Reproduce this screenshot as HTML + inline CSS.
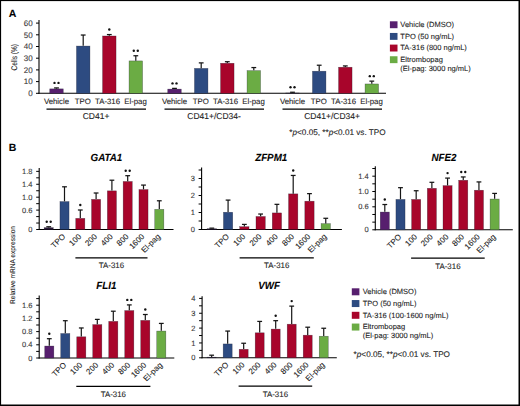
<!DOCTYPE html>
<html><head><meta charset="utf-8"><style>
html,body{margin:0;padding:0;background:#fff;}
body{width:520px;height:406px;overflow:hidden;}
svg{display:block;font-family:"Liberation Sans", sans-serif;}
text{stroke:#2a2a2a;stroke-width:0.1px;text-rendering:geometricPrecision;}
</style></head><body>
<svg width="520" height="406" viewBox="0 0 520 406">
<rect x="0" y="0" width="520" height="406" fill="#fff"/>
<text x="8.8" y="17.3" font-size="10.5" text-anchor="start" font-weight="bold" font-style="normal" fill="#000" >A</text>
<line x1="39" y1="20" x2="39" y2="93.8" stroke="#000" stroke-width="1.1"/>
<line x1="36" y1="93.3" x2="39" y2="93.3" stroke="#000" stroke-width="1"/>
<text x="32.6" y="96.1" font-size="8.0" text-anchor="end" font-weight="normal" font-style="normal" fill="#3a3a3a" >0</text>
<line x1="36" y1="81.6" x2="39" y2="81.6" stroke="#000" stroke-width="1"/>
<text x="32.6" y="84.39999999999999" font-size="8.0" text-anchor="end" font-weight="normal" font-style="normal" fill="#3a3a3a" >10</text>
<line x1="36" y1="69.9" x2="39" y2="69.9" stroke="#000" stroke-width="1"/>
<text x="32.6" y="72.7" font-size="8.0" text-anchor="end" font-weight="normal" font-style="normal" fill="#3a3a3a" >20</text>
<line x1="36" y1="58.2" x2="39" y2="58.2" stroke="#000" stroke-width="1"/>
<text x="32.6" y="61.0" font-size="8.0" text-anchor="end" font-weight="normal" font-style="normal" fill="#3a3a3a" >30</text>
<line x1="36" y1="46.5" x2="39" y2="46.5" stroke="#000" stroke-width="1"/>
<text x="32.6" y="49.3" font-size="8.0" text-anchor="end" font-weight="normal" font-style="normal" fill="#3a3a3a" >40</text>
<line x1="36" y1="34.8" x2="39" y2="34.8" stroke="#000" stroke-width="1"/>
<text x="32.6" y="37.599999999999994" font-size="8.0" text-anchor="end" font-weight="normal" font-style="normal" fill="#3a3a3a" >50</text>
<line x1="36" y1="23.10000000000001" x2="39" y2="23.10000000000001" stroke="#000" stroke-width="1"/>
<text x="32.6" y="25.90000000000001" font-size="8.0" text-anchor="end" font-weight="normal" font-style="normal" fill="#3a3a3a" >60</text>
<text transform="translate(16.6,57.3) rotate(-90)" font-size="8.2" text-anchor="middle" fill="#222" textLength="26.5" lengthAdjust="spacingAndGlyphs">Cells (%)</text>
<line x1="38.5" y1="93.3" x2="386" y2="93.3" stroke="#000" stroke-width="1.1"/>
<rect x="49.75" y="88.87" width="13.50" height="4.43" fill="#571f6e" stroke="#1a1a2a" stroke-opacity="0.55" stroke-width="0.5"/>
<line x1="56.5" y1="88.62" x2="56.5" y2="87.91799999999999" stroke="#151515" stroke-width="1.2"/>
<line x1="54.1" y1="87.91799999999999" x2="58.9" y2="87.91799999999999" stroke="#151515" stroke-width="1.25"/>
<circle cx="54.50" cy="82.92" r="1.2" fill="#111"/>
<circle cx="58.50" cy="82.92" r="1.2" fill="#111"/>
<text x="56.5" y="104" font-size="7.8" text-anchor="middle" font-weight="normal" font-style="normal" fill="#222" >Vehicle</text>
<rect x="76.45" y="46.05" width="13.50" height="47.25" fill="#2d4b81" stroke="#1a1a2a" stroke-opacity="0.55" stroke-width="0.5"/>
<line x1="83.2" y1="45.798" x2="83.2" y2="35.034000000000006" stroke="#151515" stroke-width="1.2"/>
<line x1="80.8" y1="35.034000000000006" x2="85.60000000000001" y2="35.034000000000006" stroke="#151515" stroke-width="1.25"/>
<text x="82.7" y="104" font-size="7.8" text-anchor="middle" font-weight="normal" font-style="normal" fill="#222" >TPO</text>
<rect x="102.55" y="35.99" width="13.50" height="57.31" fill="#a8052b" stroke="#1a1a2a" stroke-opacity="0.55" stroke-width="0.5"/>
<line x1="109.3" y1="35.736" x2="109.3" y2="34.565999999999995" stroke="#151515" stroke-width="1.2"/>
<line x1="106.89999999999999" y1="34.565999999999995" x2="111.7" y2="34.565999999999995" stroke="#151515" stroke-width="1.25"/>
<circle cx="109.30" cy="29.57" r="1.2" fill="#111"/>
<text x="107.5" y="104" font-size="7.8" text-anchor="middle" font-weight="normal" font-style="normal" fill="#222" >TA-316</text>
<rect x="129.05" y="60.91" width="13.50" height="32.39" fill="#6bac44" stroke="#1a1a2a" stroke-opacity="0.55" stroke-width="0.5"/>
<line x1="135.8" y1="60.657000000000004" x2="135.8" y2="55.742999999999995" stroke="#151515" stroke-width="1.2"/>
<line x1="133.4" y1="55.742999999999995" x2="138.20000000000002" y2="55.742999999999995" stroke="#151515" stroke-width="1.25"/>
<circle cx="133.80" cy="50.74" r="1.2" fill="#111"/>
<circle cx="137.80" cy="50.74" r="1.2" fill="#111"/>
<text x="135.5" y="104" font-size="7.8" text-anchor="middle" font-weight="normal" font-style="normal" fill="#222" >El-pag</text>
<line x1="46.5" y1="109.2" x2="146.0" y2="109.2" stroke="#000" stroke-width="1.2"/>
<text x="96.1" y="119.2" font-size="8.5" text-anchor="middle" font-weight="normal" font-style="normal" fill="#222" >CD41+</text>
<rect x="167.75" y="89.10" width="13.50" height="4.20" fill="#571f6e" stroke="#1a1a2a" stroke-opacity="0.55" stroke-width="0.5"/>
<line x1="174.5" y1="88.854" x2="174.5" y2="88.386" stroke="#151515" stroke-width="1.2"/>
<line x1="172.1" y1="88.386" x2="176.9" y2="88.386" stroke="#151515" stroke-width="1.25"/>
<circle cx="172.50" cy="83.39" r="1.2" fill="#111"/>
<circle cx="176.50" cy="83.39" r="1.2" fill="#111"/>
<text x="174.5" y="104" font-size="7.8" text-anchor="middle" font-weight="normal" font-style="normal" fill="#222" >Vehicle</text>
<rect x="194.45" y="68.39" width="13.50" height="24.91" fill="#2d4b81" stroke="#1a1a2a" stroke-opacity="0.55" stroke-width="0.5"/>
<line x1="201.2" y1="68.145" x2="201.2" y2="62.879999999999995" stroke="#151515" stroke-width="1.2"/>
<line x1="198.79999999999998" y1="62.879999999999995" x2="203.6" y2="62.879999999999995" stroke="#151515" stroke-width="1.25"/>
<text x="200.7" y="104" font-size="7.8" text-anchor="middle" font-weight="normal" font-style="normal" fill="#222" >TPO</text>
<rect x="220.55" y="63.25" width="13.50" height="30.05" fill="#a8052b" stroke="#1a1a2a" stroke-opacity="0.55" stroke-width="0.5"/>
<line x1="227.3" y1="62.997" x2="227.3" y2="61.71" stroke="#151515" stroke-width="1.2"/>
<line x1="224.9" y1="61.71" x2="229.70000000000002" y2="61.71" stroke="#151515" stroke-width="1.25"/>
<text x="225.5" y="104" font-size="7.8" text-anchor="middle" font-weight="normal" font-style="normal" fill="#222" >TA-316</text>
<rect x="247.05" y="70.62" width="13.50" height="22.68" fill="#6bac44" stroke="#1a1a2a" stroke-opacity="0.55" stroke-width="0.5"/>
<line x1="253.8" y1="70.368" x2="253.8" y2="67.56" stroke="#151515" stroke-width="1.2"/>
<line x1="251.4" y1="67.56" x2="256.2" y2="67.56" stroke="#151515" stroke-width="1.25"/>
<text x="253.5" y="104" font-size="7.8" text-anchor="middle" font-weight="normal" font-style="normal" fill="#222" >El-pag</text>
<line x1="164.5" y1="109.2" x2="264.0" y2="109.2" stroke="#000" stroke-width="1.2"/>
<text x="214.1" y="119.2" font-size="8.5" text-anchor="middle" font-weight="normal" font-style="normal" fill="#222" >CD41+/CD34-</text>
<rect x="285.75" y="92.97" width="13.50" height="0.33" fill="#2a1838" stroke="#1a1a2a" stroke-opacity="0.55" stroke-width="0.5"/>
<line x1="292.5" y1="92.715" x2="292.5" y2="92.247" stroke="#151515" stroke-width="1.2"/>
<line x1="290.1" y1="92.247" x2="294.9" y2="92.247" stroke="#151515" stroke-width="1.25"/>
<circle cx="290.50" cy="87.25" r="1.2" fill="#111"/>
<circle cx="294.50" cy="87.25" r="1.2" fill="#111"/>
<text x="292.5" y="104" font-size="7.8" text-anchor="middle" font-weight="normal" font-style="normal" fill="#222" >Vehicle</text>
<rect x="312.45" y="71.20" width="13.50" height="22.10" fill="#2d4b81" stroke="#1a1a2a" stroke-opacity="0.55" stroke-width="0.5"/>
<line x1="319.2" y1="70.953" x2="319.2" y2="65.22" stroke="#151515" stroke-width="1.2"/>
<line x1="316.8" y1="65.22" x2="321.59999999999997" y2="65.22" stroke="#151515" stroke-width="1.25"/>
<text x="318.7" y="104" font-size="7.8" text-anchor="middle" font-weight="normal" font-style="normal" fill="#222" >TPO</text>
<rect x="338.55" y="67.22" width="13.50" height="26.08" fill="#a8052b" stroke="#1a1a2a" stroke-opacity="0.55" stroke-width="0.5"/>
<line x1="345.3" y1="66.975" x2="345.3" y2="65.922" stroke="#151515" stroke-width="1.2"/>
<line x1="342.90000000000003" y1="65.922" x2="347.7" y2="65.922" stroke="#151515" stroke-width="1.25"/>
<text x="343.5" y="104" font-size="7.8" text-anchor="middle" font-weight="normal" font-style="normal" fill="#222" >TA-316</text>
<rect x="365.05" y="83.96" width="13.50" height="9.34" fill="#6bac44" stroke="#1a1a2a" stroke-opacity="0.55" stroke-width="0.5"/>
<line x1="371.8" y1="83.706" x2="371.8" y2="81.132" stroke="#151515" stroke-width="1.2"/>
<line x1="369.40000000000003" y1="81.132" x2="374.2" y2="81.132" stroke="#151515" stroke-width="1.25"/>
<circle cx="369.80" cy="76.13" r="1.2" fill="#111"/>
<circle cx="373.80" cy="76.13" r="1.2" fill="#111"/>
<text x="371.5" y="104" font-size="7.8" text-anchor="middle" font-weight="normal" font-style="normal" fill="#222" >El-pag</text>
<line x1="282.5" y1="109.2" x2="382.0" y2="109.2" stroke="#000" stroke-width="1.2"/>
<text x="332.1" y="119.2" font-size="8.5" text-anchor="middle" font-weight="normal" font-style="normal" fill="#222" >CD41+/CD34+</text>
<text x="337.5" y="134.8" font-size="8.2" text-anchor="middle" font-weight="normal" font-style="normal" fill="#222" >*<tspan font-style="italic">p</tspan>&lt;0.05, **<tspan font-style="italic">p</tspan>&lt;0.01 vs. TPO</text>
<rect x="389.9" y="21.3" width="7.6" height="6.9" fill="#571f6e"/>
<text x="400.3" y="27.1" font-size="7.5" text-anchor="start" font-weight="normal" font-style="normal" fill="#222" >Vehicle (DMSO)</text>
<rect x="389.9" y="32.95" width="7.6" height="6.9" fill="#2d4b81"/>
<text x="400.3" y="38.75" font-size="7.5" text-anchor="start" font-weight="normal" font-style="normal" fill="#222" >TPO (50 ng/mL)</text>
<rect x="389.9" y="44.6" width="7.6" height="6.9" fill="#a8052b"/>
<text x="400.3" y="50.4" font-size="7.5" text-anchor="start" font-weight="normal" font-style="normal" fill="#222" >TA-316 (800 ng/mL)</text>
<rect x="389.9" y="56.25" width="7.6" height="6.9" fill="#6bac44"/>
<text x="400.3" y="62.05" font-size="7.5" text-anchor="start" font-weight="normal" font-style="normal" fill="#222" >Eltrombopag</text>
<text x="400.3" y="70.85" font-size="7.5" text-anchor="start" font-weight="normal" font-style="normal" fill="#222" >(El-pag: 3000 ng/mL)</text>
<text x="8.8" y="150.5" font-size="10.5" text-anchor="start" font-weight="bold" font-style="normal" fill="#000" >B</text>
<text transform="translate(15.4,265) rotate(-90)" font-size="7.0" text-anchor="middle" fill="#222" textLength="78" lengthAdjust="spacingAndGlyphs">Relative mRNA expression</text>
<text transform="translate(106.40,160.50) scale(0.95,1)" font-size="10.3" text-anchor="middle" font-weight="bold" font-style="italic" fill="#000" >GATA1</text>
<line x1="39.2" y1="168" x2="39.2" y2="230.0" stroke="#000" stroke-width="1.1"/>
<line x1="38.7" y1="229.5" x2="173.5" y2="229.5" stroke="#000" stroke-width="1.1"/>
<line x1="36.2" y1="229.5" x2="39.2" y2="229.5" stroke="#000" stroke-width="1"/>
<line x1="36.2" y1="223.04" x2="39.2" y2="223.04" stroke="#000" stroke-width="1"/>
<line x1="36.2" y1="216.58" x2="39.2" y2="216.58" stroke="#000" stroke-width="1"/>
<line x1="36.2" y1="210.12" x2="39.2" y2="210.12" stroke="#000" stroke-width="1"/>
<line x1="36.2" y1="203.66" x2="39.2" y2="203.66" stroke="#000" stroke-width="1"/>
<line x1="36.2" y1="197.2" x2="39.2" y2="197.2" stroke="#000" stroke-width="1"/>
<line x1="36.2" y1="190.74" x2="39.2" y2="190.74" stroke="#000" stroke-width="1"/>
<line x1="36.2" y1="184.28" x2="39.2" y2="184.28" stroke="#000" stroke-width="1"/>
<line x1="36.2" y1="177.82" x2="39.2" y2="177.82" stroke="#000" stroke-width="1"/>
<line x1="36.2" y1="171.36" x2="39.2" y2="171.36" stroke="#000" stroke-width="1"/>
<text x="32.5" y="173.96" font-size="7.5" text-anchor="end" font-weight="normal" font-style="normal" fill="#3a3a3a" >1.8</text>
<text x="32.5" y="186.88" font-size="7.5" text-anchor="end" font-weight="normal" font-style="normal" fill="#3a3a3a" >1.4</text>
<text x="32.5" y="199.79999999999998" font-size="7.5" text-anchor="end" font-weight="normal" font-style="normal" fill="#3a3a3a" >1.0</text>
<text x="32.5" y="212.72" font-size="7.5" text-anchor="end" font-weight="normal" font-style="normal" fill="#3a3a3a" >0.6</text>
<text x="32.5" y="232.1" font-size="7.5" text-anchor="end" font-weight="normal" font-style="normal" fill="#3a3a3a" >0</text>
<rect x="44.15" y="227.65" width="9.10" height="1.85" fill="#2a1838" stroke="#1a1a2a" stroke-opacity="0.55" stroke-width="0.5"/>
<line x1="48.699999999999996" y1="227.4005" x2="48.699999999999996" y2="226.7545" stroke="#151515" stroke-width="1.2"/>
<line x1="46.3" y1="226.7545" x2="51.099999999999994" y2="226.7545" stroke="#151515" stroke-width="1.25"/>
<circle cx="46.70" cy="221.75" r="1.2" fill="#111"/>
<circle cx="50.70" cy="221.75" r="1.2" fill="#111"/>
<rect x="59.95" y="201.55" width="9.10" height="27.95" fill="#2d4b81" stroke="#1a1a2a" stroke-opacity="0.55" stroke-width="0.5"/>
<line x1="64.5" y1="201.3021" x2="64.5" y2="186.7994" stroke="#151515" stroke-width="1.2"/>
<line x1="62.1" y1="186.7994" x2="66.9" y2="186.7994" stroke="#151515" stroke-width="1.25"/>
<text transform="translate(66.00,237.00) rotate(-45)" font-size="8.0" text-anchor="end" fill="#222">TPO</text>
<rect x="75.75" y="218.35" width="9.10" height="11.15" fill="#a8052b" stroke="#1a1a2a" stroke-opacity="0.55" stroke-width="0.5"/>
<line x1="80.3" y1="218.0981" x2="80.3" y2="209.9908" stroke="#151515" stroke-width="1.2"/>
<line x1="77.89999999999999" y1="209.9908" x2="82.7" y2="209.9908" stroke="#151515" stroke-width="1.25"/>
<circle cx="80.30" cy="204.99" r="1.2" fill="#111"/>
<text transform="translate(81.80,237.00) rotate(-45)" font-size="8.0" text-anchor="end" fill="#222">100</text>
<rect x="91.55" y="199.36" width="9.10" height="30.14" fill="#a8052b" stroke="#1a1a2a" stroke-opacity="0.55" stroke-width="0.5"/>
<line x1="96.10000000000001" y1="199.1057" x2="96.10000000000001" y2="193.001" stroke="#151515" stroke-width="1.2"/>
<line x1="93.7" y1="193.001" x2="98.50000000000001" y2="193.001" stroke="#151515" stroke-width="1.25"/>
<text transform="translate(97.60,237.00) rotate(-45)" font-size="8.0" text-anchor="end" fill="#222">200</text>
<rect x="107.35" y="190.86" width="9.10" height="38.64" fill="#a8052b" stroke="#1a1a2a" stroke-opacity="0.55" stroke-width="0.5"/>
<line x1="111.89999999999999" y1="190.6108" x2="111.89999999999999" y2="180.2102" stroke="#151515" stroke-width="1.2"/>
<line x1="109.49999999999999" y1="180.2102" x2="114.3" y2="180.2102" stroke="#151515" stroke-width="1.25"/>
<text transform="translate(113.40,237.00) rotate(-45)" font-size="8.0" text-anchor="end" fill="#222">400</text>
<rect x="123.15" y="181.46" width="9.10" height="48.04" fill="#a8052b" stroke="#1a1a2a" stroke-opacity="0.55" stroke-width="0.5"/>
<line x1="127.7" y1="181.2115" x2="127.7" y2="175.6882" stroke="#151515" stroke-width="1.2"/>
<line x1="125.3" y1="175.6882" x2="130.1" y2="175.6882" stroke="#151515" stroke-width="1.25"/>
<circle cx="125.70" cy="170.69" r="1.2" fill="#111"/>
<circle cx="129.70" cy="170.69" r="1.2" fill="#111"/>
<text transform="translate(129.20,237.00) rotate(-45)" font-size="8.0" text-anchor="end" fill="#222">800</text>
<rect x="138.95" y="189.54" width="9.10" height="39.96" fill="#a8052b" stroke="#1a1a2a" stroke-opacity="0.55" stroke-width="0.5"/>
<line x1="143.50000000000003" y1="189.2865" x2="143.50000000000003" y2="185.0875" stroke="#151515" stroke-width="1.2"/>
<line x1="141.10000000000002" y1="185.0875" x2="145.90000000000003" y2="185.0875" stroke="#151515" stroke-width="1.25"/>
<text transform="translate(145.00,237.00) rotate(-45)" font-size="8.0" text-anchor="end" fill="#222">1600</text>
<rect x="154.75" y="209.34" width="9.10" height="20.16" fill="#6bac44" stroke="#1a1a2a" stroke-opacity="0.55" stroke-width="0.5"/>
<line x1="159.3" y1="209.0864" x2="159.3" y2="200.7853" stroke="#151515" stroke-width="1.2"/>
<line x1="156.9" y1="200.7853" x2="161.70000000000002" y2="200.7853" stroke="#151515" stroke-width="1.25"/>
<text transform="translate(160.80,237.00) rotate(-45)" font-size="8.0" text-anchor="end" fill="#222">El-pag</text>
<line x1="75.4" y1="257.8" x2="147.5" y2="257.8" stroke="#000" stroke-width="1.2"/>
<text x="111.45" y="268.4" font-size="7.9" text-anchor="middle" font-weight="normal" font-style="normal" fill="#222" >TA-316</text>
<text transform="translate(271.20,160.50) scale(0.95,1)" font-size="10.3" text-anchor="middle" font-weight="bold" font-style="italic" fill="#000" >ZFPM1</text>
<line x1="201.6" y1="167.6" x2="201.6" y2="230.0" stroke="#000" stroke-width="1.1"/>
<line x1="201.1" y1="229.5" x2="341.9" y2="229.5" stroke="#000" stroke-width="1.1"/>
<line x1="198.6" y1="229.5" x2="201.6" y2="229.5" stroke="#000" stroke-width="1"/>
<line x1="198.6" y1="221.0" x2="201.6" y2="221.0" stroke="#000" stroke-width="1"/>
<line x1="198.6" y1="212.5" x2="201.6" y2="212.5" stroke="#000" stroke-width="1"/>
<line x1="198.6" y1="204.0" x2="201.6" y2="204.0" stroke="#000" stroke-width="1"/>
<line x1="198.6" y1="195.5" x2="201.6" y2="195.5" stroke="#000" stroke-width="1"/>
<line x1="198.6" y1="187.0" x2="201.6" y2="187.0" stroke="#000" stroke-width="1"/>
<line x1="198.6" y1="178.5" x2="201.6" y2="178.5" stroke="#000" stroke-width="1"/>
<line x1="198.6" y1="170.0" x2="201.6" y2="170.0" stroke="#000" stroke-width="1"/>
<text x="194.9" y="181.1" font-size="7.5" text-anchor="end" font-weight="normal" font-style="normal" fill="#3a3a3a" >3</text>
<text x="194.9" y="198.1" font-size="7.5" text-anchor="end" font-weight="normal" font-style="normal" fill="#3a3a3a" >2</text>
<text x="194.9" y="215.1" font-size="7.5" text-anchor="end" font-weight="normal" font-style="normal" fill="#3a3a3a" >1</text>
<text x="194.9" y="232.1" font-size="7.5" text-anchor="end" font-weight="normal" font-style="normal" fill="#3a3a3a" >0</text>
<rect x="207.15" y="228.73" width="9.30" height="0.77" fill="#2a1838" stroke="#1a1a2a" stroke-opacity="0.55" stroke-width="0.5"/>
<line x1="211.8" y1="228.48" x2="211.8" y2="228.14" stroke="#151515" stroke-width="1.2"/>
<line x1="209.4" y1="228.14" x2="214.20000000000002" y2="228.14" stroke="#151515" stroke-width="1.25"/>
<rect x="223.43" y="212.24" width="9.30" height="17.26" fill="#2d4b81" stroke="#1a1a2a" stroke-opacity="0.55" stroke-width="0.5"/>
<line x1="228.08" y1="211.99" x2="228.08" y2="200.09" stroke="#151515" stroke-width="1.2"/>
<line x1="225.68" y1="200.09" x2="230.48000000000002" y2="200.09" stroke="#151515" stroke-width="1.25"/>
<text transform="translate(229.58,237.00) rotate(-45)" font-size="8.0" text-anchor="end" fill="#222">TPO</text>
<rect x="239.71" y="226.69" width="9.30" height="2.81" fill="#a8052b" stroke="#1a1a2a" stroke-opacity="0.55" stroke-width="0.5"/>
<line x1="244.36" y1="226.44" x2="244.36" y2="224.4" stroke="#151515" stroke-width="1.2"/>
<line x1="241.96" y1="224.4" x2="246.76000000000002" y2="224.4" stroke="#151515" stroke-width="1.25"/>
<text transform="translate(245.86,237.00) rotate(-45)" font-size="8.0" text-anchor="end" fill="#222">100</text>
<rect x="255.99" y="216.49" width="9.30" height="13.01" fill="#a8052b" stroke="#1a1a2a" stroke-opacity="0.55" stroke-width="0.5"/>
<line x1="260.64" y1="216.24" x2="260.64" y2="214.03" stroke="#151515" stroke-width="1.2"/>
<line x1="258.24" y1="214.03" x2="263.03999999999996" y2="214.03" stroke="#151515" stroke-width="1.25"/>
<text transform="translate(262.14,237.00) rotate(-45)" font-size="8.0" text-anchor="end" fill="#222">200</text>
<rect x="272.27" y="212.92" width="9.30" height="16.58" fill="#a8052b" stroke="#1a1a2a" stroke-opacity="0.55" stroke-width="0.5"/>
<line x1="276.91999999999996" y1="212.67000000000002" x2="276.91999999999996" y2="204.34" stroke="#151515" stroke-width="1.2"/>
<line x1="274.52" y1="204.34" x2="279.31999999999994" y2="204.34" stroke="#151515" stroke-width="1.25"/>
<text transform="translate(278.42,237.00) rotate(-45)" font-size="8.0" text-anchor="end" fill="#222">400</text>
<rect x="288.55" y="193.88" width="9.30" height="35.62" fill="#a8052b" stroke="#1a1a2a" stroke-opacity="0.55" stroke-width="0.5"/>
<line x1="293.2" y1="193.63" x2="293.2" y2="175.44" stroke="#151515" stroke-width="1.2"/>
<line x1="290.8" y1="175.44" x2="295.59999999999997" y2="175.44" stroke="#151515" stroke-width="1.25"/>
<circle cx="293.20" cy="170.44" r="1.2" fill="#111"/>
<text transform="translate(294.70,237.00) rotate(-45)" font-size="8.0" text-anchor="end" fill="#222">800</text>
<rect x="304.83" y="201.19" width="9.30" height="28.31" fill="#a8052b" stroke="#1a1a2a" stroke-opacity="0.55" stroke-width="0.5"/>
<line x1="309.48" y1="200.94" x2="309.48" y2="193.63" stroke="#151515" stroke-width="1.2"/>
<line x1="307.08000000000004" y1="193.63" x2="311.88" y2="193.63" stroke="#151515" stroke-width="1.25"/>
<text transform="translate(310.98,237.00) rotate(-45)" font-size="8.0" text-anchor="end" fill="#222">1600</text>
<rect x="321.11" y="223.63" width="9.30" height="5.87" fill="#6bac44" stroke="#1a1a2a" stroke-opacity="0.55" stroke-width="0.5"/>
<line x1="325.76" y1="223.38" x2="325.76" y2="218.28" stroke="#151515" stroke-width="1.2"/>
<line x1="323.36" y1="218.28" x2="328.15999999999997" y2="218.28" stroke="#151515" stroke-width="1.25"/>
<text transform="translate(327.26,237.00) rotate(-45)" font-size="8.0" text-anchor="end" fill="#222">El-pag</text>
<line x1="239.6" y1="257.8" x2="313.8" y2="257.8" stroke="#000" stroke-width="1.2"/>
<text x="276.7" y="268.4" font-size="7.9" text-anchor="middle" font-weight="normal" font-style="normal" fill="#222" >TA-316</text>
<text transform="translate(444.00,160.50) scale(0.95,1)" font-size="10.3" text-anchor="middle" font-weight="bold" font-style="italic" fill="#000" >NFE2</text>
<line x1="375.3" y1="166.3" x2="375.3" y2="230.3" stroke="#000" stroke-width="1.1"/>
<line x1="374.8" y1="229.8" x2="512.8" y2="229.8" stroke="#000" stroke-width="1.1"/>
<line x1="372.3" y1="229.8" x2="375.3" y2="229.8" stroke="#000" stroke-width="1"/>
<line x1="372.3" y1="222.14000000000001" x2="375.3" y2="222.14000000000001" stroke="#000" stroke-width="1"/>
<line x1="372.3" y1="214.48000000000002" x2="375.3" y2="214.48000000000002" stroke="#000" stroke-width="1"/>
<line x1="372.3" y1="206.82000000000002" x2="375.3" y2="206.82000000000002" stroke="#000" stroke-width="1"/>
<line x1="372.3" y1="199.16000000000003" x2="375.3" y2="199.16000000000003" stroke="#000" stroke-width="1"/>
<line x1="372.3" y1="191.5" x2="375.3" y2="191.5" stroke="#000" stroke-width="1"/>
<line x1="372.3" y1="183.84000000000003" x2="375.3" y2="183.84000000000003" stroke="#000" stroke-width="1"/>
<line x1="372.3" y1="176.18" x2="375.3" y2="176.18" stroke="#000" stroke-width="1"/>
<line x1="372.3" y1="168.52" x2="375.3" y2="168.52" stroke="#000" stroke-width="1"/>
<text x="368.6" y="178.78" font-size="7.5" text-anchor="end" font-weight="normal" font-style="normal" fill="#3a3a3a" >1.4</text>
<text x="368.6" y="194.1" font-size="7.5" text-anchor="end" font-weight="normal" font-style="normal" fill="#3a3a3a" >1.0</text>
<text x="368.6" y="209.42000000000002" font-size="7.5" text-anchor="end" font-weight="normal" font-style="normal" fill="#3a3a3a" >0.6</text>
<text x="368.6" y="232.4" font-size="7.5" text-anchor="end" font-weight="normal" font-style="normal" fill="#3a3a3a" >0</text>
<rect x="380.25" y="212.05" width="9.10" height="17.75" fill="#571f6e" stroke="#1a1a2a" stroke-opacity="0.55" stroke-width="0.5"/>
<line x1="384.8" y1="211.799" x2="384.8" y2="204.52200000000002" stroke="#151515" stroke-width="1.2"/>
<line x1="382.40000000000003" y1="204.52200000000002" x2="387.2" y2="204.52200000000002" stroke="#151515" stroke-width="1.25"/>
<circle cx="384.80" cy="199.52" r="1.2" fill="#111"/>
<rect x="395.94" y="199.41" width="9.10" height="30.39" fill="#2d4b81" stroke="#1a1a2a" stroke-opacity="0.55" stroke-width="0.5"/>
<line x1="400.49" y1="199.16000000000003" x2="400.49" y2="187.67000000000002" stroke="#151515" stroke-width="1.2"/>
<line x1="398.09000000000003" y1="187.67000000000002" x2="402.89" y2="187.67000000000002" stroke="#151515" stroke-width="1.25"/>
<text transform="translate(401.99,237.30) rotate(-45)" font-size="8.0" text-anchor="end" fill="#222">TPO</text>
<rect x="411.63" y="199.41" width="9.10" height="30.39" fill="#a8052b" stroke="#1a1a2a" stroke-opacity="0.55" stroke-width="0.5"/>
<line x1="416.18" y1="199.16000000000003" x2="416.18" y2="190.734" stroke="#151515" stroke-width="1.2"/>
<line x1="413.78000000000003" y1="190.734" x2="418.58" y2="190.734" stroke="#151515" stroke-width="1.25"/>
<text transform="translate(417.68,237.30) rotate(-45)" font-size="8.0" text-anchor="end" fill="#222">100</text>
<rect x="427.32" y="188.30" width="9.10" height="41.50" fill="#a8052b" stroke="#1a1a2a" stroke-opacity="0.55" stroke-width="0.5"/>
<line x1="431.87" y1="188.053" x2="431.87" y2="182.30800000000002" stroke="#151515" stroke-width="1.2"/>
<line x1="429.47" y1="182.30800000000002" x2="434.27" y2="182.30800000000002" stroke="#151515" stroke-width="1.25"/>
<text transform="translate(433.37,237.30) rotate(-45)" font-size="8.0" text-anchor="end" fill="#222">200</text>
<rect x="443.01" y="185.62" width="9.10" height="44.18" fill="#a8052b" stroke="#1a1a2a" stroke-opacity="0.55" stroke-width="0.5"/>
<line x1="447.56" y1="185.372" x2="447.56" y2="178.09500000000003" stroke="#151515" stroke-width="1.2"/>
<line x1="445.16" y1="178.09500000000003" x2="449.96" y2="178.09500000000003" stroke="#151515" stroke-width="1.25"/>
<circle cx="447.56" cy="173.10" r="1.2" fill="#111"/>
<text transform="translate(449.06,237.30) rotate(-45)" font-size="8.0" text-anchor="end" fill="#222">400</text>
<rect x="458.70" y="180.26" width="9.10" height="49.54" fill="#a8052b" stroke="#1a1a2a" stroke-opacity="0.55" stroke-width="0.5"/>
<line x1="463.25" y1="180.01000000000002" x2="463.25" y2="176.94600000000003" stroke="#151515" stroke-width="1.2"/>
<line x1="460.85" y1="176.94600000000003" x2="465.65" y2="176.94600000000003" stroke="#151515" stroke-width="1.25"/>
<circle cx="461.25" cy="171.95" r="1.2" fill="#111"/>
<circle cx="465.25" cy="171.95" r="1.2" fill="#111"/>
<text transform="translate(464.75,237.30) rotate(-45)" font-size="8.0" text-anchor="end" fill="#222">800</text>
<rect x="474.39" y="190.22" width="9.10" height="39.58" fill="#a8052b" stroke="#1a1a2a" stroke-opacity="0.55" stroke-width="0.5"/>
<line x1="478.94" y1="189.96800000000002" x2="478.94" y2="181.925" stroke="#151515" stroke-width="1.2"/>
<line x1="476.54" y1="181.925" x2="481.34" y2="181.925" stroke="#151515" stroke-width="1.25"/>
<text transform="translate(480.44,237.30) rotate(-45)" font-size="8.0" text-anchor="end" fill="#222">1600</text>
<rect x="490.08" y="199.03" width="9.10" height="30.77" fill="#6bac44" stroke="#1a1a2a" stroke-opacity="0.55" stroke-width="0.5"/>
<line x1="494.63" y1="198.77700000000002" x2="494.63" y2="193.41500000000002" stroke="#151515" stroke-width="1.2"/>
<line x1="492.23" y1="193.41500000000002" x2="497.03" y2="193.41500000000002" stroke="#151515" stroke-width="1.25"/>
<text transform="translate(496.13,237.30) rotate(-45)" font-size="8.0" text-anchor="end" fill="#222">El-pag</text>
<line x1="411.1" y1="258.1" x2="484.7" y2="258.1" stroke="#000" stroke-width="1.2"/>
<text x="447.9" y="268.7" font-size="7.9" text-anchor="middle" font-weight="normal" font-style="normal" fill="#222" >TA-316</text>
<text transform="translate(106.40,288.50) scale(0.95,1)" font-size="10.3" text-anchor="middle" font-weight="bold" font-style="italic" fill="#000" >FLI1</text>
<line x1="39.2" y1="295.5" x2="39.2" y2="358.5" stroke="#000" stroke-width="1.1"/>
<line x1="38.7" y1="358" x2="174.3" y2="358" stroke="#000" stroke-width="1.1"/>
<line x1="36.2" y1="358.0" x2="39.2" y2="358.0" stroke="#000" stroke-width="1"/>
<line x1="36.2" y1="351.4" x2="39.2" y2="351.4" stroke="#000" stroke-width="1"/>
<line x1="36.2" y1="344.8" x2="39.2" y2="344.8" stroke="#000" stroke-width="1"/>
<line x1="36.2" y1="338.2" x2="39.2" y2="338.2" stroke="#000" stroke-width="1"/>
<line x1="36.2" y1="331.6" x2="39.2" y2="331.6" stroke="#000" stroke-width="1"/>
<line x1="36.2" y1="325.0" x2="39.2" y2="325.0" stroke="#000" stroke-width="1"/>
<line x1="36.2" y1="318.4" x2="39.2" y2="318.4" stroke="#000" stroke-width="1"/>
<line x1="36.2" y1="311.8" x2="39.2" y2="311.8" stroke="#000" stroke-width="1"/>
<line x1="36.2" y1="305.2" x2="39.2" y2="305.2" stroke="#000" stroke-width="1"/>
<line x1="36.2" y1="298.6" x2="39.2" y2="298.6" stroke="#000" stroke-width="1"/>
<text x="32.5" y="307.8" font-size="7.5" text-anchor="end" font-weight="normal" font-style="normal" fill="#3a3a3a" >1.6</text>
<text x="32.5" y="321.0" font-size="7.5" text-anchor="end" font-weight="normal" font-style="normal" fill="#3a3a3a" >1.2</text>
<text x="32.5" y="334.20000000000005" font-size="7.5" text-anchor="end" font-weight="normal" font-style="normal" fill="#3a3a3a" >0.8</text>
<text x="32.5" y="347.40000000000003" font-size="7.5" text-anchor="end" font-weight="normal" font-style="normal" fill="#3a3a3a" >0.4</text>
<text x="32.5" y="360.6" font-size="7.5" text-anchor="end" font-weight="normal" font-style="normal" fill="#3a3a3a" >0</text>
<rect x="44.75" y="346.04" width="9.10" height="11.96" fill="#571f6e" stroke="#1a1a2a" stroke-opacity="0.55" stroke-width="0.5"/>
<line x1="49.3" y1="345.79" x2="49.3" y2="338.695" stroke="#151515" stroke-width="1.2"/>
<line x1="46.9" y1="338.695" x2="51.699999999999996" y2="338.695" stroke="#151515" stroke-width="1.25"/>
<circle cx="49.30" cy="333.69" r="1.2" fill="#111"/>
<rect x="60.75" y="333.50" width="9.10" height="24.50" fill="#2d4b81" stroke="#1a1a2a" stroke-opacity="0.55" stroke-width="0.5"/>
<line x1="65.3" y1="333.25" x2="65.3" y2="320.71" stroke="#151515" stroke-width="1.2"/>
<line x1="62.9" y1="320.71" x2="67.7" y2="320.71" stroke="#151515" stroke-width="1.25"/>
<text transform="translate(66.80,365.50) rotate(-45)" font-size="8.0" text-anchor="end" fill="#222">TPO</text>
<rect x="76.75" y="336.80" width="9.10" height="21.20" fill="#a8052b" stroke="#1a1a2a" stroke-opacity="0.55" stroke-width="0.5"/>
<line x1="81.3" y1="336.55" x2="81.3" y2="327.97" stroke="#151515" stroke-width="1.2"/>
<line x1="78.89999999999999" y1="327.97" x2="83.7" y2="327.97" stroke="#151515" stroke-width="1.25"/>
<text transform="translate(82.80,365.50) rotate(-45)" font-size="8.0" text-anchor="end" fill="#222">100</text>
<rect x="92.75" y="324.59" width="9.10" height="33.41" fill="#a8052b" stroke="#1a1a2a" stroke-opacity="0.55" stroke-width="0.5"/>
<line x1="97.3" y1="324.34" x2="97.3" y2="319.39" stroke="#151515" stroke-width="1.2"/>
<line x1="94.89999999999999" y1="319.39" x2="99.7" y2="319.39" stroke="#151515" stroke-width="1.25"/>
<text transform="translate(98.80,365.50) rotate(-45)" font-size="8.0" text-anchor="end" fill="#222">200</text>
<rect x="108.75" y="321.36" width="9.10" height="36.64" fill="#a8052b" stroke="#1a1a2a" stroke-opacity="0.55" stroke-width="0.5"/>
<line x1="113.3" y1="321.106" x2="113.3" y2="311.206" stroke="#151515" stroke-width="1.2"/>
<line x1="110.89999999999999" y1="311.206" x2="115.7" y2="311.206" stroke="#151515" stroke-width="1.25"/>
<text transform="translate(114.80,365.50) rotate(-45)" font-size="8.0" text-anchor="end" fill="#222">400</text>
<rect x="124.75" y="310.56" width="9.10" height="47.44" fill="#a8052b" stroke="#1a1a2a" stroke-opacity="0.55" stroke-width="0.5"/>
<line x1="129.3" y1="310.315" x2="129.3" y2="304.903" stroke="#151515" stroke-width="1.2"/>
<line x1="126.9" y1="304.903" x2="131.70000000000002" y2="304.903" stroke="#151515" stroke-width="1.25"/>
<circle cx="127.30" cy="299.90" r="1.2" fill="#111"/>
<circle cx="131.30" cy="299.90" r="1.2" fill="#111"/>
<text transform="translate(130.80,365.50) rotate(-45)" font-size="8.0" text-anchor="end" fill="#222">800</text>
<rect x="140.75" y="320.37" width="9.10" height="37.63" fill="#a8052b" stroke="#1a1a2a" stroke-opacity="0.55" stroke-width="0.5"/>
<line x1="145.3" y1="320.116" x2="145.3" y2="314.506" stroke="#151515" stroke-width="1.2"/>
<line x1="142.9" y1="314.506" x2="147.70000000000002" y2="314.506" stroke="#151515" stroke-width="1.25"/>
<circle cx="145.30" cy="309.51" r="1.2" fill="#111"/>
<text transform="translate(146.80,365.50) rotate(-45)" font-size="8.0" text-anchor="end" fill="#222">1600</text>
<rect x="156.75" y="331.06" width="9.10" height="26.94" fill="#6bac44" stroke="#1a1a2a" stroke-opacity="0.55" stroke-width="0.5"/>
<line x1="161.3" y1="330.808" x2="161.3" y2="323.416" stroke="#151515" stroke-width="1.2"/>
<line x1="158.9" y1="323.416" x2="163.70000000000002" y2="323.416" stroke="#151515" stroke-width="1.25"/>
<text transform="translate(162.80,365.50) rotate(-45)" font-size="8.0" text-anchor="end" fill="#222">El-pag</text>
<line x1="76.3" y1="386.3" x2="150.4" y2="386.3" stroke="#000" stroke-width="1.2"/>
<text x="113.35" y="396.9" font-size="7.9" text-anchor="middle" font-weight="normal" font-style="normal" fill="#222" >TA-316</text>
<text transform="translate(269.20,288.50) scale(0.95,1)" font-size="10.3" text-anchor="middle" font-weight="bold" font-style="italic" fill="#000" >VWF</text>
<line x1="202.1" y1="296.2" x2="202.1" y2="358.3" stroke="#000" stroke-width="1.1"/>
<line x1="201.6" y1="357.8" x2="336.8" y2="357.8" stroke="#000" stroke-width="1.1"/>
<line x1="199.1" y1="357.8" x2="202.1" y2="357.8" stroke="#000" stroke-width="1"/>
<line x1="199.1" y1="350.375" x2="202.1" y2="350.375" stroke="#000" stroke-width="1"/>
<line x1="199.1" y1="342.95" x2="202.1" y2="342.95" stroke="#000" stroke-width="1"/>
<line x1="199.1" y1="335.52500000000003" x2="202.1" y2="335.52500000000003" stroke="#000" stroke-width="1"/>
<line x1="199.1" y1="328.1" x2="202.1" y2="328.1" stroke="#000" stroke-width="1"/>
<line x1="199.1" y1="320.675" x2="202.1" y2="320.675" stroke="#000" stroke-width="1"/>
<line x1="199.1" y1="313.25" x2="202.1" y2="313.25" stroke="#000" stroke-width="1"/>
<line x1="199.1" y1="305.825" x2="202.1" y2="305.825" stroke="#000" stroke-width="1"/>
<line x1="199.1" y1="298.40000000000003" x2="202.1" y2="298.40000000000003" stroke="#000" stroke-width="1"/>
<text x="195.4" y="301.00000000000006" font-size="7.5" text-anchor="end" font-weight="normal" font-style="normal" fill="#3a3a3a" >4</text>
<text x="195.4" y="315.85" font-size="7.5" text-anchor="end" font-weight="normal" font-style="normal" fill="#3a3a3a" >3</text>
<text x="195.4" y="330.70000000000005" font-size="7.5" text-anchor="end" font-weight="normal" font-style="normal" fill="#3a3a3a" >2</text>
<text x="195.4" y="345.55" font-size="7.5" text-anchor="end" font-weight="normal" font-style="normal" fill="#3a3a3a" >1</text>
<text x="195.4" y="360.40000000000003" font-size="7.5" text-anchor="end" font-weight="normal" font-style="normal" fill="#3a3a3a" >0</text>
<rect x="207.15" y="357.16" width="9.00" height="0.64" fill="#2a1838" stroke="#1a1a2a" stroke-opacity="0.55" stroke-width="0.5"/>
<line x1="211.65" y1="356.909" x2="211.65" y2="355.20125" stroke="#151515" stroke-width="1.2"/>
<line x1="209.25" y1="355.20125" x2="214.05" y2="355.20125" stroke="#151515" stroke-width="1.25"/>
<rect x="223.16" y="343.94" width="9.00" height="13.86" fill="#2d4b81" stroke="#1a1a2a" stroke-opacity="0.55" stroke-width="0.5"/>
<line x1="227.66" y1="343.6925" x2="227.66" y2="331.07" stroke="#151515" stroke-width="1.2"/>
<line x1="225.26" y1="331.07" x2="230.06" y2="331.07" stroke="#151515" stroke-width="1.25"/>
<text transform="translate(229.16,365.30) rotate(-45)" font-size="8.0" text-anchor="end" fill="#222">TPO</text>
<rect x="239.17" y="349.29" width="9.00" height="8.51" fill="#a8052b" stroke="#1a1a2a" stroke-opacity="0.55" stroke-width="0.5"/>
<line x1="243.67000000000002" y1="349.0385" x2="243.67000000000002" y2="343.247" stroke="#151515" stroke-width="1.2"/>
<line x1="241.27" y1="343.247" x2="246.07000000000002" y2="343.247" stroke="#151515" stroke-width="1.25"/>
<text transform="translate(245.17,365.30) rotate(-45)" font-size="8.0" text-anchor="end" fill="#222">100</text>
<rect x="255.18" y="332.81" width="9.00" height="25.00" fill="#a8052b" stroke="#1a1a2a" stroke-opacity="0.55" stroke-width="0.5"/>
<line x1="259.68" y1="332.555" x2="259.68" y2="321.4175" stroke="#151515" stroke-width="1.2"/>
<line x1="257.28000000000003" y1="321.4175" x2="262.08" y2="321.4175" stroke="#151515" stroke-width="1.25"/>
<text transform="translate(261.18,365.30) rotate(-45)" font-size="8.0" text-anchor="end" fill="#222">200</text>
<rect x="271.19" y="329.09" width="9.00" height="28.71" fill="#a8052b" stroke="#1a1a2a" stroke-opacity="0.55" stroke-width="0.5"/>
<line x1="275.69" y1="328.84250000000003" x2="275.69" y2="320.675" stroke="#151515" stroke-width="1.2"/>
<line x1="273.29" y1="320.675" x2="278.09" y2="320.675" stroke="#151515" stroke-width="1.25"/>
<circle cx="275.69" cy="315.68" r="1.2" fill="#111"/>
<text transform="translate(277.19,365.30) rotate(-45)" font-size="8.0" text-anchor="end" fill="#222">400</text>
<rect x="287.20" y="324.19" width="9.00" height="33.61" fill="#a8052b" stroke="#1a1a2a" stroke-opacity="0.55" stroke-width="0.5"/>
<line x1="291.70000000000005" y1="323.942" x2="291.70000000000005" y2="306.122" stroke="#151515" stroke-width="1.2"/>
<line x1="289.30000000000007" y1="306.122" x2="294.1" y2="306.122" stroke="#151515" stroke-width="1.25"/>
<circle cx="291.70" cy="301.12" r="1.2" fill="#111"/>
<text transform="translate(293.20,365.30) rotate(-45)" font-size="8.0" text-anchor="end" fill="#222">800</text>
<rect x="303.21" y="335.18" width="9.00" height="22.62" fill="#a8052b" stroke="#1a1a2a" stroke-opacity="0.55" stroke-width="0.5"/>
<line x1="307.71000000000004" y1="334.93100000000004" x2="307.71000000000004" y2="327.209" stroke="#151515" stroke-width="1.2"/>
<line x1="305.31000000000006" y1="327.209" x2="310.11" y2="327.209" stroke="#151515" stroke-width="1.25"/>
<text transform="translate(309.21,365.30) rotate(-45)" font-size="8.0" text-anchor="end" fill="#222">1600</text>
<rect x="319.22" y="336.22" width="9.00" height="21.58" fill="#6bac44" stroke="#1a1a2a" stroke-opacity="0.55" stroke-width="0.5"/>
<line x1="323.72" y1="335.9705" x2="323.72" y2="328.24850000000004" stroke="#151515" stroke-width="1.2"/>
<line x1="321.32000000000005" y1="328.24850000000004" x2="326.12" y2="328.24850000000004" stroke="#151515" stroke-width="1.25"/>
<text transform="translate(325.22,365.30) rotate(-45)" font-size="8.0" text-anchor="end" fill="#222">El-pag</text>
<line x1="238.6" y1="386.1" x2="312.2" y2="386.1" stroke="#000" stroke-width="1.2"/>
<text x="275.4" y="396.7" font-size="7.9" text-anchor="middle" font-weight="normal" font-style="normal" fill="#222" >TA-316</text>
<rect x="351.8" y="288.3" width="7.6" height="7" fill="#571f6e"/>
<text x="362.7" y="294.2" font-size="7.5" text-anchor="start" font-weight="normal" font-style="normal" fill="#222" >Vehicle (DMSO)</text>
<rect x="351.8" y="300.05" width="7.6" height="7" fill="#2d4b81"/>
<text x="362.7" y="305.95" font-size="7.5" text-anchor="start" font-weight="normal" font-style="normal" fill="#222" >TPO (50 ng/mL)</text>
<rect x="351.8" y="311.8" width="7.6" height="7" fill="#a8052b"/>
<text x="362.7" y="317.7" font-size="7.5" text-anchor="start" font-weight="normal" font-style="normal" fill="#222" >TA-316 (100-1600 ng/mL)</text>
<rect x="351.8" y="323.55" width="7.6" height="7" fill="#6bac44"/>
<text x="362.7" y="329.45" font-size="7.5" text-anchor="start" font-weight="normal" font-style="normal" fill="#222" >Eltrombopag</text>
<text x="362.7" y="337.84999999999997" font-size="7.5" text-anchor="start" font-weight="normal" font-style="normal" fill="#222" >(El-pag: 3000 ng/mL)</text>
<text x="353.6" y="357.3" font-size="8.2" text-anchor="start" font-weight="normal" font-style="normal" fill="#222" >*<tspan font-style="italic">p</tspan>&lt;0.05, **<tspan font-style="italic">p</tspan>&lt;0.01 vs. TPO</text>
<rect x="0.5" y="0.5" width="518.6" height="404.6" fill="none" stroke="#000" stroke-width="1.2"/>
<rect x="519" y="0" width="1" height="406" fill="#000"/>
<rect x="0" y="405" width="520" height="1" fill="#000"/>
</svg>
</body></html>
